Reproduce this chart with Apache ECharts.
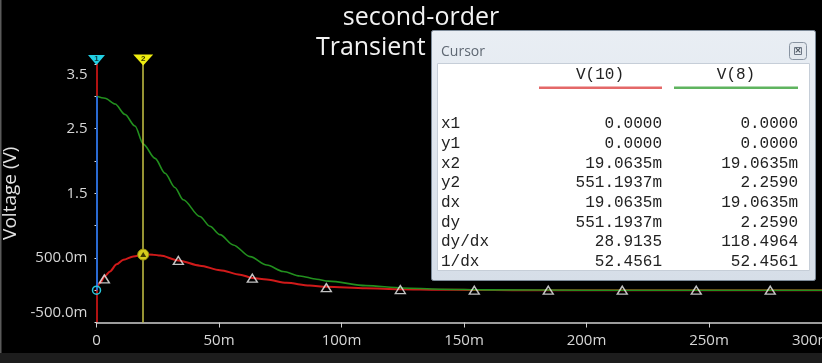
<!DOCTYPE html>
<html>
<head>
<meta charset="utf-8">
<script src="https://cdn.jsdelivr.net/npm/echarts@6/dist/echarts.min.js"></script>
<style>
html,body{margin:0;padding:0;background:#000;}
#chart{width:822px;height:363px;}
</style>
</head>
<body>
<div id="chart"></div>
<script>
// ---- data (time in ms, voltage in V) ----
const timeV10 = [0, 1.4, 3.5, 5.5, 8.2, 11, 15, 19.1, 23.2, 26, 33.4, 42.2, 50.4, 58.6, 63.6, 69.5, 77.6, 87, 93.9, 110, 124, 140, 154, 170, 200, 250, 300];
const voltV10 = [0, 0.11, 0.22, 0.29, 0.40, 0.47, 0.52, 0.551, 0.55, 0.535, 0.46, 0.38, 0.31, 0.24, 0.19, 0.165, 0.114, 0.073, 0.052, 0.03, 0.015, 0.008, 0.004, 0, 0, 0, 0];
const timeV8 = [0, 3.5, 7.6, 11.6, 15.7, 19.1, 23.9, 28, 32, 35.4, 42.2, 46.3, 50.4, 55.8, 62.7, 69.5, 76.2, 83, 89.9, 94.6, 110, 125, 140, 160, 200, 250, 300];
const voltV8 = [3.0, 2.97, 2.88, 2.72, 2.54, 2.26, 2.04, 1.81, 1.59, 1.40, 1.14, 0.99, 0.86, 0.70, 0.52, 0.39, 0.29, 0.22, 0.17, 0.14, 0.07, 0.035, 0.015, 0.005, 0, 0, 0];
const markerTimes = [3.2, 33.4, 63.6, 93.8, 124, 154.2, 184.4, 214.6, 244.8, 275];
const markerVolts = [0.175, 0.46, 0.185, 0.04, 0.01, 0, 0, 0, 0, 0];
const cursor1 = {x: 0, yTop: 3.0, yBot: 0};
const cursor2 = {x: 19.0635, y: 0.551};
const xTickValues = [0, 50, 100, 150, 200, 250, 300];
const xTickLabels = ['0', '50m', '100m', '150m', '200m', '250m', '300m'];
const yLabelValues = [3.5, 2.5, 1.5, 0.5, -0.5];
const yLabelTexts = ['3.5', '2.5', '1.5', '500.0m', '-500.0m'];
const panelRows = ['x1', 'y1', 'x2', 'y2', 'dx', 'dy', 'dy/dx', '1/dx'];
const panelV10 = ['0.0000', '0.0000', '19.0635m', '551.1937m', '19.0635m', '551.1937m', '28.9135', '52.4561'];
const panelV8 = ['0.0000', '0.0000', '19.0635m', '2.2590', '19.0635m', '2.2590', '118.4964', '52.4561'];
const traceNames = ['V(10)', 'V(8)'];

const zip = (a, b) => a.map((v, i) => [v, b[i]]);
const FONT = 'Open Sans';
const MONO = 'Liberation Mono';

const chart = echarts.init(document.getElementById('chart'));

// panel graphics
const panel = [];
panel.push({type:'rect', z:100, shape:{x:431.5, y:30.5, width:384, height:250, r:2},
  style:{fill:new echarts.graphic.LinearGradient(0,0,0,1,[{offset:0,color:'#e9eef4'},{offset:1,color:'#d6dee8'}]), stroke:'#7d8a98', lineWidth:1}});
panel.push({type:'text', z:101, style:{x:441, y:52, text:'Cursor', fill:'#5f6873', font:'14px "Open Sans"', verticalAlign:'middle'}});
panel.push({type:'rect', z:101, shape:{x:789.5, y:42.5, width:17, height:17, r:3}, style:{fill:'#e4e9ef', stroke:'#8994a2', lineWidth:1}});
panel.push({type:'rect', z:102, shape:{x:794.5, y:47.5, width:7, height:7}, style:{fill:'none', stroke:'#6c7684', lineWidth:1}});
panel.push({type:'text', z:103, style:{x:798, y:51, text:'×', fill:'#4c5560', font:'bold 9px "DejaVu Sans"', align:'center', verticalAlign:'middle'}});
panel.push({type:'rect', z:101, shape:{x:437.5, y:63.5, width:372, height:207}, style:{fill:'#ffffff', stroke:'#c6ced8', lineWidth:1}});
panel.push({type:'text', z:102, style:{x:600, y:75, text:traceNames[0], fill:'#222222', font:'16px "'+MONO+'"', align:'center', verticalAlign:'middle'}});
panel.push({type:'text', z:102, style:{x:736, y:75, text:traceNames[1], fill:'#222222', font:'16px "'+MONO+'"', align:'center', verticalAlign:'middle'}});
panel.push({type:'rect', z:102, shape:{x:539, y:86.5, width:123, height:2.5}, style:{fill:'#e46868'}});
panel.push({type:'rect', z:102, shape:{x:674, y:86.5, width:124, height:2.5}, style:{fill:'#5fb45f'}});
panelRows.forEach((r, i) => {
  const y = 124 + 19.66 * i;
  panel.push({type:'text', z:102, style:{x:441, y:y, text:r, fill:'#222222', font:'16px "'+MONO+'"', verticalAlign:'middle'}});
  panel.push({type:'text', z:102, style:{x:662, y:y, text:panelV10[i], fill:'#222222', font:'16px "'+MONO+'"', align:'right', verticalAlign:'middle'}});
  panel.push({type:'text', z:102, style:{x:798, y:y, text:panelV8[i], fill:'#222222', font:'16px "'+MONO+'"', align:'right', verticalAlign:'middle'}});
});
// window surroundings
panel.push({type:'rect', z:90, shape:{x:0, y:353, width:822, height:10}, style:{fill:'#1d1d1d'}});
panel.push({type:'rect', z:90, shape:{x:0, y:0, width:1.5, height:353}, style:{fill:'#5a5a5a'}});

const option = {
  backgroundColor: '#000000',
  animation: false,
  title: {
    text: 'second-order\nTransient Analysis',
    left: 416, top: -2, textAlign: 'center',
    textStyle: {color:'#f2f2f2', fontSize:25, fontWeight:'normal', fontFamily:FONT, lineHeight:30}
  },
  grid: {left: 96.5, top: 64, width: 735, height: 258.5, containLabel: false, outerBoundsMode: 'none'},
  xAxis: {
    type: 'value', min: 0, max: 300, interval: 50,
    axisLine: {onZero: false, lineStyle: {color:'#cfcfcf', width:1.5}},
    axisTick: {length: 5, lineStyle: {color:'#cfcfcf'}},
    splitLine: {show: false},
    axisLabel: {color:'#d6d6d6', fontSize:15, fontFamily:FONT, margin:11, alignMaxLabel:'right',
      formatter: v => { const i = xTickValues.indexOf(v); return i >= 0 ? xTickLabels[i] : ''; }}
  },
  yAxis: {
    type: 'value', min: -0.5, max: 3.5, interval: 0.5,
    name: 'Voltage (V)', nameLocation: 'middle', nameGap: 66,
    nameTextStyle: {color:'#e2e2e2', fontSize:19, fontFamily:FONT},
    axisLine: {onZero: false, lineStyle: {color:'#b01212', width:2}},
    axisTick: {length: 2, lineStyle: {color:'#dddddd'}},
    splitLine: {show: false},
    axisLabel: {color:'#d6d6d6', fontSize:15, fontFamily:FONT, margin:9,
      formatter: v => {
        const i = yLabelValues.findIndex(x => Math.abs(x - v) < 1e-9);
        if (i < 0) return '';
        if (i === 0) return '{top|' + yLabelTexts[i] + '}';
        if (i === yLabelValues.length - 1) return '{bot|' + yLabelTexts[i] + '}';
        return yLabelTexts[i];
      },
      rich: {
        top: {color:'#d6d6d6', fontSize:15, fontFamily:FONT, padding:[22,0,0,0]},
        bot: {color:'#d6d6d6', fontSize:15, fontFamily:FONT, padding:[0,0,19,0]}
      }
    }
  },
  series: [
    {
      name: traceNames[0], type: 'line', data: zip(timeV10, voltV10),
      smooth: 0.3, smoothMonotone: 'x', showSymbol: false, clip: false,
      lineStyle: {color:'#d01a1a', width:2}, z: 2,
      markLine: {
        silent: true, symbol: ['none','none'], label: {show:false}, animation:false,
        data: [
          [{coord:[cursor2.x, 3.5], lineStyle:{color:'#c9c444', width:1.5, type:'solid'}}, {coord:[cursor2.x, -0.5]}],
          [{coord:[cursor1.x, cursor1.yTop], lineStyle:{color:'#2a6ad2', width:2, type:'solid'}}, {coord:[cursor1.x, cursor1.yBot]}]
        ]
      },
      markPoint: {
        silent: true, animation:false,
        data: [
          {coord:[cursor1.x, 3.5], symbol:'triangle', symbolRotate:180, symbolSize:[17,10], symbolOffset:[0,-4],
            itemStyle:{color:'#22d0e4'}, label:{show:true, formatter:'1', color:'#0a3a40', fontSize:8, fontWeight:'bold', offset:[0,-1]}},
          {coord:[cursor2.x, 3.5], symbol:'triangle', symbolRotate:180, symbolSize:[20,11], symbolOffset:[0,-4],
            itemStyle:{color:'#f0ee10'}, label:{show:true, formatter:'2', color:'#3a3a00', fontSize:8, fontWeight:'bold', offset:[0,-1]}},
          {coord:[cursor1.x, cursor1.yBot], symbol:'circle', symbolSize:8,
            itemStyle:{color:'rgba(0,0,0,0)', borderColor:'#28c8dc', borderWidth:1.5}, label:{show:false}},
          {coord:[cursor2.x, cursor2.y], symbol:'circle', symbolSize:11,
            itemStyle:{color:'#d4cc1c', borderColor:'#9c9410', borderWidth:1}, label:{show:false}},
          {coord:[cursor2.x, cursor2.y], symbol:'triangle', symbolSize:[6,5],
            itemStyle:{color:'#403c00'}, label:{show:false}}
        ]
      }
    },
    {
      name: traceNames[1], type: 'line', data: zip(timeV8, voltV8),
      smooth: 0.3, smoothMonotone: 'x', showSymbol: false, clip: false,
      lineStyle: {color:'#22901e', width:1.6}, z: 3
    },
    {
      type: 'scatter', data: zip(markerTimes, markerVolts),
      symbol: 'triangle', symbolSize: [10,8], z: 4, silent: true,
      itemStyle: {color:'rgba(0,0,0,0)', borderColor:'#f2f2f2', borderWidth:1.4}
    }
  ],
  graphic: {elements: panel}
};
chart.setOption(option);
</script>
</body>
</html>
